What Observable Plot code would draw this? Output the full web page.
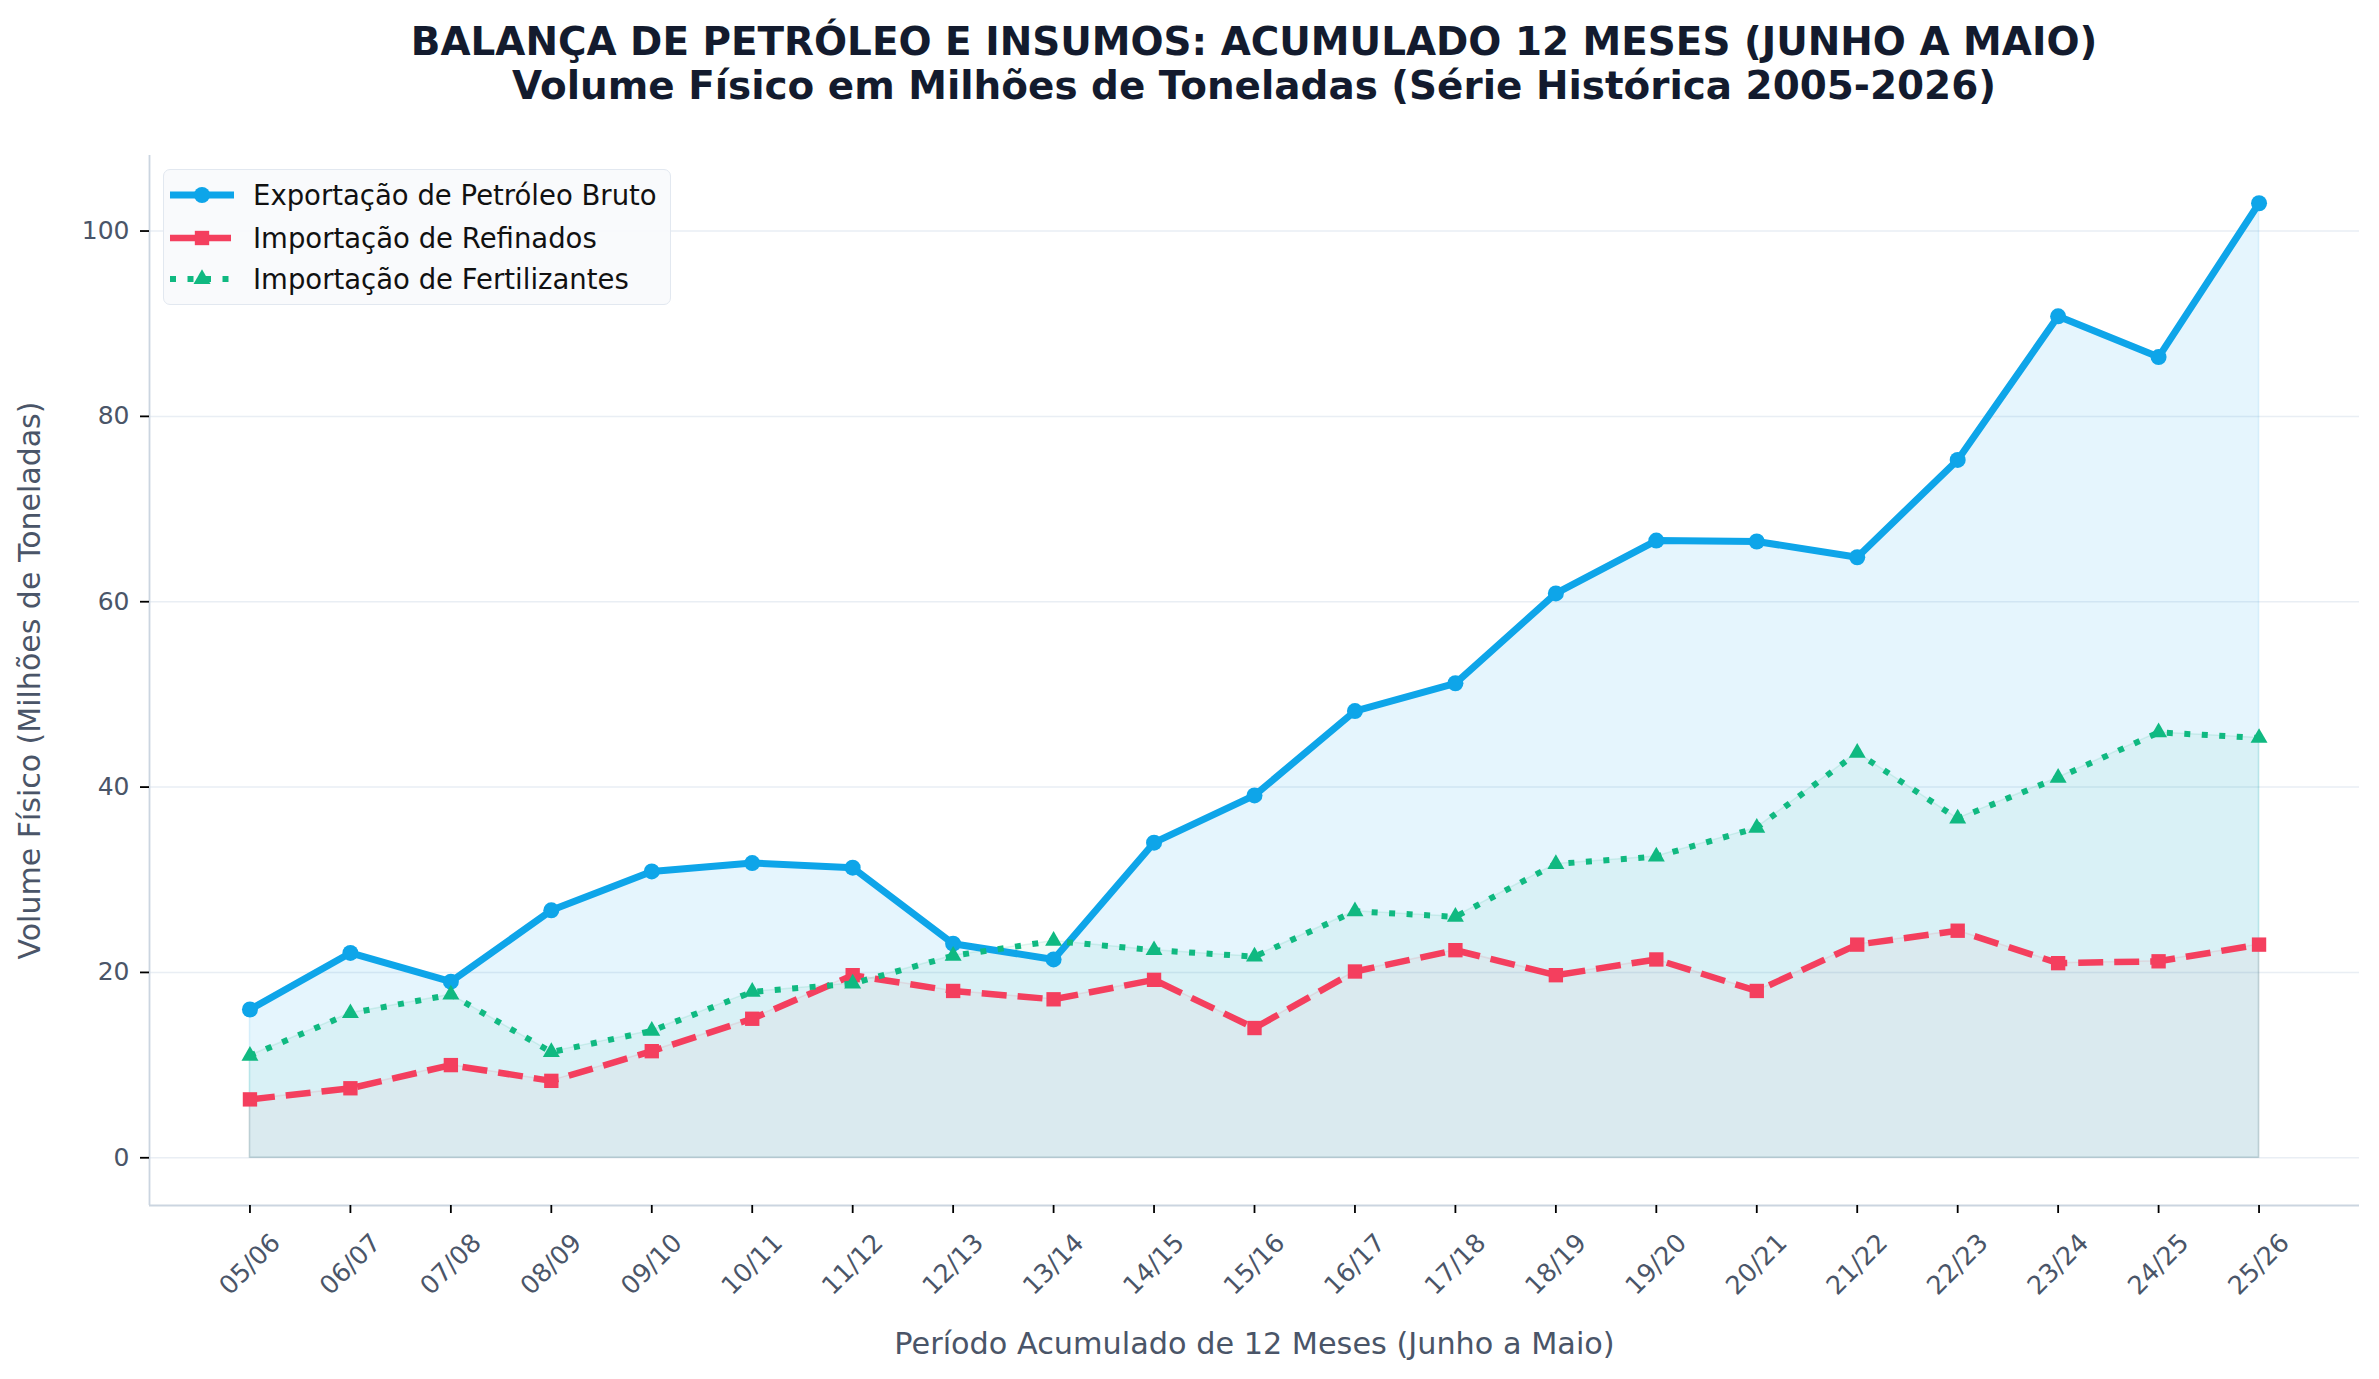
<!DOCTYPE html>
<html>
<head>
<meta charset="utf-8">
<script src="https://cdn.jsdelivr.net/npm/d3@7"></script>
<script src="https://cdn.jsdelivr.net/npm/@observablehq/plot@0.6"></script>
<style>
  html, body { margin: 0; padding: 0; background: #ffffff; }
  body { width: 2379px; height: 1379px; overflow: hidden; font-family: "DejaVu Sans", sans-serif; }
  #wrap { position: relative; width: 2379px; height: 1379px; }
  #title { position: absolute; left: 149px; width: 2210px; top: 20px; text-align: center;
           font-weight: bold; font-size: 38.9px; line-height: 44px; color: #131b2e; }
  #chart { position: absolute; left: 0; top: 100px; }
  #legend { position: absolute; left: 163px; top: 169px; width: 506px; height: 134px;
            background: rgba(248,250,252,0.92); border: 1px solid #e2e8f0; border-radius: 7px; }
  .row { position: absolute; left: 6px; height: 42px; display: flex; align-items: center; }
  .row span { font-size: 27.5px; color: #111111; margin-left: 19px; white-space: nowrap; }
</style>
</head>
<body>
<div id="wrap">
  <div id="title"></div>
  <div id="chart"></div>
  <div id="legend"></div>
</div>
<script>
// ---- data ----
const titleLines = [
  "BALANÇA DE PETRÓLEO E INSUMOS: ACUMULADO 12 MESES (JUNHO A MAIO)",
  "Volume Físico em Milhões de Toneladas (Série Histórica 2005-2026)"
];
const xLabel = "Período Acumulado de 12 Meses (Junho a Maio)";
const yLabel = "Volume Físico (Milhões de Toneladas)";

const periods = ["05/06","06/07","07/08","08/09","09/10","10/11","11/12","12/13","13/14","14/15",
                 "15/16","16/17","17/18","18/19","19/20","20/21","21/22","22/23","23/24","24/25","25/26"];

const exportacaoPetroleo = [16.0, 22.1, 19.0, 26.7, 30.9, 31.8, 31.3, 23.1, 21.4, 34.0,
                            39.1, 48.2, 51.2, 60.9, 66.6, 66.5, 64.8, 75.3, 90.8, 86.4, 103.0];
const importacaoRefinados = [6.3, 7.5, 10.0, 8.3, 11.5, 15.0, 19.7, 18.0, 17.1, 19.2,
                             14.0, 20.1, 22.4, 19.7, 21.4, 18.0, 23.0, 24.5, 21.0, 21.2, 23.0];
const importacaoFertilizantes = [11.0, 15.6, 17.6, 11.4, 13.7, 17.9, 18.8, 21.8, 23.4, 22.4,
                                 21.7, 26.6, 26.0, 31.7, 32.5, 35.6, 43.7, 36.6, 41.0, 45.9, 45.3];

const seriesNames = ["Exportação de Petróleo Bruto", "Importação de Refinados", "Importação de Fertilizantes"];
const yTicks = [0, 20, 40, 60, 80, 100];

// ---- styles ----
const styles = [
  {color: "#0ea5e9", width: 7,   dash: null,     cap: "round", symbol: "circle",   r: 8,   fillOp: 0.11},
  {color: "#f43f5e", width: 6.5, dash: "25,11",  cap: "butt",  symbol: "square",   r: 8.1, fillOp: 0.045},
  {color: "#10b981", width: 6,   dash: "6,11.5", cap: "butt",  symbol: "triangle", r: 6.3, fillOp: 0.055}
];
const seriesValues = [exportacaoPetroleo, importacaoRefinados, importacaoFertilizantes];
const tables = seriesValues.map(vals => periods.map((p, i) => ({i, period: p, value: vals[i]})));

document.getElementById("title").innerHTML = titleLines.map(t => `<div>${t}</div>`).join("");

const marks = [
  Plot.gridY(yTicks, {stroke: "#e2e8f0", strokeOpacity: 0.75, strokeWidth: 1.5}),
];
tables.forEach((t, k) => {
  marks.push(Plot.areaY(t, {x: "i", y: "value", fill: styles[k].color, fillOpacity: styles[k].fillOp,
    stroke: styles[k].color, strokeOpacity: 0.12, strokeWidth: 1.5}));
});
tables.forEach((t, k) => {
  const s = styles[k];
  marks.push(Plot.lineY(t, {x: "i", y: "value", stroke: s.color, strokeWidth: s.width,
    strokeDasharray: s.dash, strokeLinecap: s.cap, strokeLinejoin: "round"}));
  marks.push(Plot.dot(t, {x: "i", y: "value", symbol: () => s.symbol, r: s.r, fill: s.color, stroke: "none"}));
});
marks.push(
  Plot.ruleY([-5.15], {stroke: "#cbd5e0", strokeWidth: 1.8}),
  Plot.ruleX([-1], {stroke: "#cbd5e0", strokeWidth: 1.8}),
  Plot.axisY({ticks: yTicks, tickSize: 9, tickPadding: 11, fontSize: 25, fill: "#4a5568",
    stroke: "#000", strokeWidth: 1.8, label: null}),
  Plot.axisX({ticks: d3.range(periods.length), tickFormat: i => periods[i], tickSize: 8,
    tickPadding: 51, tickRotate: -45, textAnchor: "middle", lineAnchor: "middle",
    fontSize: 25.5, fill: "#4a5568", stroke: "#000", strokeWidth: 1.8, label: null}),
  Plot.text([yLabel], {text: d => d, frameAnchor: "left", dx: -119, rotate: -90,
    fontSize: 30, fill: "#4a5568", textAnchor: "middle", lineAnchor: "middle"}),
  Plot.text([xLabel], {text: d => d, frameAnchor: "bottom", dy: 139,
    fontSize: 30.3, fill: "#4a5568", textAnchor: "middle", lineAnchor: "middle"})
);

const chart = Plot.plot({
  width: 2379, height: 1279,
  marginLeft: 149, marginRight: 20, marginTop: 55, marginBottom: 174,
  x: {type: "linear", domain: [-1, 21]},
  y: {domain: [-5.15, 108.15]},
  style: {fontFamily: "DejaVu Sans", background: "transparent", overflow: "visible"},
  marks
});
document.getElementById("chart").appendChild(chart);

// ---- legend ----
const legend = d3.select("#legend");
const rowTops = [4, 47, 88];
seriesNames.forEach((name, k) => {
  const s = styles[k];
  const row = legend.append("div").attr("class", "row").style("top", rowTops[k] + "px");
  const svg = row.append("svg").attr("width", 64).attr("height", 24);
  svg.append("line").attr("x1", 0).attr("x2", 64).attr("y1", 12).attr("y2", 12)
    .attr("stroke", s.color).attr("stroke-width", s.width)
    .attr("stroke-dasharray", s.dash).attr("stroke-linecap", s.cap === "round" ? "butt" : s.cap);
  const symbols = {circle: d3.symbolCircle, square: d3.symbolSquare, triangle: d3.symbolTriangle};
  svg.append("path").attr("transform", "translate(32,12)")
    .attr("d", d3.symbol(symbols[s.symbol], Math.PI * s.r * s.r)())
    .attr("fill", s.color);
  row.append("span").text(name);
});
</script>
</body>
</html>
